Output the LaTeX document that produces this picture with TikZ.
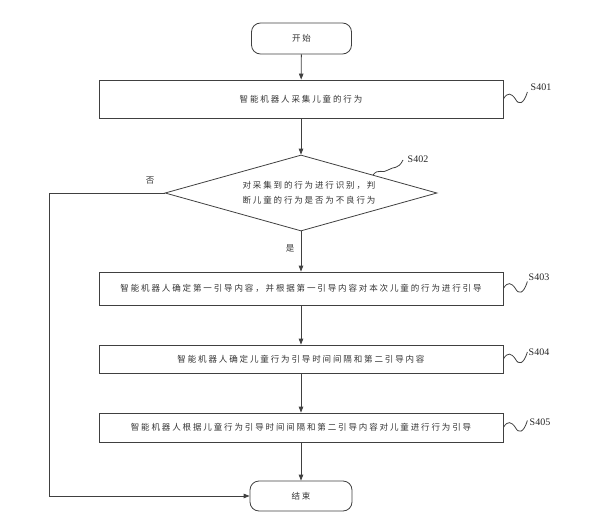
\documentclass[tikz,border=0pt]{standalone}
\usepackage{fontspec}
\setmainfont{Liberation Serif}
\newfontfamily\cjk[LetterSpace=22]{Noto Sans CJK SC}
\usetikzlibrary{shapes.geometric,arrows.meta}
\begin{document}
\begin{tikzpicture}[x=1pt,y=-1pt,
  line/.style={draw=black!75, line width=0.8pt},
  arr/.style={line, -{Triangle[length=6pt,width=4.5pt]}},
  cjktext/.style={font=\cjk\fontsize{8.5}{15}\selectfont, text=black!80},
  term/.style={line, rounded corners=9pt, minimum width=100pt, minimum height=31pt, inner sep=0pt, cjktext},
  proc/.style={line, minimum width=404pt, inner sep=0pt, cjktext},
  dec/.style={line, diamond, minimum width=272pt, minimum height=76pt, inner sep=0pt},
  lab/.style={font=\fontsize{10}{12}\selectfont, text=black!85, inner sep=0pt},
  squig/.pic={\draw[line] (0,0) .. controls (4,-7) and (8,-6) .. (12,0) .. controls (15,6) and (20,6) .. (24,-7);}]
\useasboundingbox (0,0) rectangle (600,519);

\node[term] (start) at (301.5,38.5) {开始};
\node[proc, minimum height=38pt] (s401) at (301,99) {智能机器人采集儿童的行为};
\node[dec] (s402) at (301,193) {};
\node[cjktext, align=center] (s402t) at (309,193) {对采集到的行为进行识别，判\\断儿童的行为是否为不良行为};
\node[proc, minimum height=33pt] (s403) at (301,288.5) {智能机器人确定第一引导内容，并根据第一引导内容对本次儿童的行为进行引导};
\node[proc, minimum height=28pt] (s404) at (301,359) {智能机器人确定儿童行为引导时间间隔和第二引导内容};
\node[proc, minimum height=29pt] (s405) at (301,427.5) {智能机器人根据儿童行为引导时间间隔和第二引导内容对儿童进行行为引导};
\node[term, minimum width=102pt, minimum height=30pt] (end) at (301,496) {结束};

\draw[arr] (start) -- (s401);
\draw[arr] (s401) -- (s402);
\draw[arr] (s402) -- (s403);
\draw[arr] (s403) -- (s404);
\draw[arr] (s404) -- (s405);
\draw[arr] (s405) -- (end);
\coordinate (corner) at (49,496);
\draw[arr] (s402.west) -- (s402.west -| corner) -- (corner) -- (end.west);

\node[cjktext] (no) at (150,181) {否};
\node[cjktext] (yes) at (290,248) {是};

\pic at (s401.east) {squig};
\pic at (s403.east) {squig};
\pic at (s404.east) {squig};
\pic at (s405.east) {squig};
\draw[line] (373,175) .. controls (378,168) and (383,174) .. (388,170) .. controls (394,166) and (398,170) .. (403,160);

\node[lab] (l401) at (541,87) {S401};
\node[lab] (l402) at (418,159) {S402};
\node[lab] (l403) at (539,277) {S403};
\node[lab] (l404) at (539,352) {S404};
\node[lab] (l405) at (540,422) {S405};
\end{tikzpicture}
\end{document}
